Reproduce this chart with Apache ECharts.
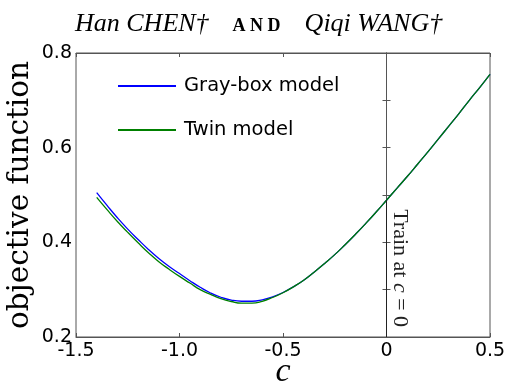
<!DOCTYPE html>
<html>
<head>
<meta charset="utf-8">
<script src="https://cdn.jsdelivr.net/npm/echarts@6/dist/echarts.min.js"></script>
<style>
  html, body { margin: 0; padding: 0; background: #fff; }
  #chart { width: 506px; height: 381px; }
</style>
</head>
<body>
<div id="chart"></div>
<script>
// Parameter sweep of the control variable c
const cValues = [-1.40, -1.35, -1.30, -1.25, -1.20, -1.15, -1.10, -1.05, -1.00, -0.95,
                 -0.90, -0.85, -0.80, -0.75, -0.70, -0.65, -0.60, -0.55, -0.50, -0.45,
                 -0.40, -0.35, -0.30, -0.25, -0.20, -0.15, -0.10, -0.05, 0.00, 0.05,
                 0.10, 0.15, 0.20, 0.25, 0.30, 0.35, 0.40, 0.45, 0.50];

// Objective function evaluated with the gray-box model
const grayBox = [0.505, 0.478, 0.452, 0.428, 0.406, 0.385, 0.366, 0.349, 0.334, 0.319,
                 0.305, 0.293, 0.284, 0.278, 0.2755, 0.2755, 0.2786, 0.285, 0.294, 0.306,
                 0.320, 0.337, 0.355, 0.374, 0.395, 0.417, 0.440, 0.464, 0.489, 0.514,
                 0.539, 0.565, 0.591, 0.618, 0.645, 0.672, 0.700, 0.727, 0.755];

// Objective function evaluated with the twin model
const twinModel = [0.495, 0.469, 0.444, 0.421, 0.399, 0.378, 0.359, 0.343, 0.328, 0.314,
                   0.300, 0.290, 0.281, 0.275, 0.2715, 0.2715, 0.2755, 0.2835, 0.2935, 0.306,
                   0.320, 0.337, 0.355, 0.374, 0.395, 0.417, 0.440, 0.464, 0.489, 0.514,
                   0.539, 0.565, 0.591, 0.618, 0.645, 0.672, 0.700, 0.727, 0.755];

// Training point marker: vertical segment at c = 0 up to the curve
const trainC = 0;
const trainLine = [[trainC, 0.2], [trainC, 0.489]];

const seriesNames = ['Gray-box model', 'Twin model'];
const xTickLabels = { '-1.5': '-1.5', '-1': '-1.0', '-0.5': '-0.5', '0': '0', '0.5': '0.5' };
const yTickLabels = ['0.2', '0.4', '0.6', '0.8'];

const sansFont = 'DejaVu Sans';
const serifFont = 'Liberation Serif';

const chart = echarts.init(document.getElementById('chart'), null, { renderer: 'canvas' });

function xLabel(v) {
  const key = String(Math.round(v * 10) / 10);
  return xTickLabels[key] !== undefined ? xTickLabels[key] : '';
}
function yLabel(v) {
  const s = v.toFixed(1);
  return yTickLabels.indexOf(s) >= 0 ? s : '';
}

const axisLine = { show: true, lineStyle: { color: '#555', width: 1 } };
const tickIn = { show: true, inside: true, length: 4, lineStyle: { color: '#555', width: 1 } };

chart.setOption({
  animation: false,
  backgroundColor: '#fff',
  title: {
    text: '{i|Han CHEN†}{b|A N D}{i|Qiqi WANG†}',
    left: 75,
    top: 11,
    padding: 0,
    textStyle: {
      fontWeight: 'normal',
      rich: {
        i: { fontFamily: serifFont, fontStyle: 'italic', fontWeight: 'normal', fontSize: 26, color: '#000', verticalAlign: 'bottom' },
        b: { fontFamily: serifFont, fontWeight: 'bold', fontSize: 18, color: '#000', verticalAlign: 'bottom', padding: [0, 24, 2, 24] }
      }
    }
  },
  legend: {
    data: seriesNames,
    orient: 'vertical',
    left: 118,
    top: 76,
    padding: 0,
    itemWidth: 58,
    itemHeight: 2,
    itemGap: 24,
    icon: 'rect',
    textStyle: { fontFamily: sansFont, fontSize: 19.5, color: '#000', padding: [0, 0, 0, 3] }
  },
  grid: {
    left: 76, right: 16, top: 53, bottom: 44,
    outerBoundsMode: 'none',
    containLabel: false,
    show: true, borderColor: '#555', borderWidth: 1, backgroundColor: 'transparent'
  },
  xAxis: [{
    type: 'value', min: -1.5, max: 0.5, interval: 0.5,
    axisLine, axisTick: tickIn, splitLine: { show: false },
    axisLabel: { formatter: xLabel, fontFamily: sansFont, fontSize: 19, color: '#000', margin: 5, showMinLabel: true, showMaxLabel: true },
    name: 'c', nameLocation: 'middle', nameGap: 18, nameMoveOverlap: false,
    nameTextStyle: { fontFamily: serifFont, fontStyle: 'italic', fontSize: 34, color: '#000' }
  }, {
    type: 'value', position: 'top', min: -1.5, max: 0.5, interval: 0.5,
    axisLine, axisTick: tickIn, axisLabel: { show: false }, splitLine: { show: false }
  }],
  yAxis: [{
    type: 'value', min: 0.2, max: 0.8, interval: 0.1,
    axisLine, axisTick: tickIn, splitLine: { show: false },
    axisLabel: { formatter: yLabel, fontFamily: sansFont, fontSize: 19, color: '#000', margin: 4 },
    name: 'objective function', nameLocation: 'middle', nameRotate: 90, nameGap: 41, nameMoveOverlap: false,
    nameTextStyle: { fontFamily: 'DejaVu Serif', fontSize: 29.5, color: '#000' }
  }, {
    type: 'value', position: 'right', min: 0.2, max: 0.8, interval: 0.1,
    axisLine, axisTick: tickIn, axisLabel: { show: false }, splitLine: { show: false }
  }],
  series: [
    {
      name: seriesNames[0], type: 'line', smooth: true, symbol: 'none',
      data: cValues.map((c, i) => [c, grayBox[i]]),
      lineStyle: { color: '#0000ff', width: 1.3 }, itemStyle: { color: '#0000ff' }
    },
    {
      name: seriesNames[1], type: 'line', smooth: true, symbol: 'none',
      data: cValues.map((c, i) => [c, twinModel[i]]),
      lineStyle: { color: '#008000', width: 1.3 }, itemStyle: { color: '#008000' }
    },
    {
      name: 'train', type: 'line', symbol: 'none', data: trainLine,
      lineStyle: { color: '#222', width: 1 }, silent: true
    }
  ]
});

// Rotated annotation next to the training line
const anchor = chart.convertToPixel({ gridIndex: 0 }, [trainC, 0.47]);
chart.setOption({
  graphic: [{
    type: 'text',
    x: anchor[0] + 2,
    y: anchor[1],
    rotation: -Math.PI / 2,
    style: {
      text: 'Train at {i|c} = 0',
      fontFamily: serifFont,
      fontSize: 22,
      fill: '#222',
      align: 'left',
      verticalAlign: 'bottom',
      rich: { i: { fontFamily: serifFont, fontStyle: 'italic', fontSize: 22, fill: '#222' } }
    }
  }]
});
</script>
</body>
</html>
